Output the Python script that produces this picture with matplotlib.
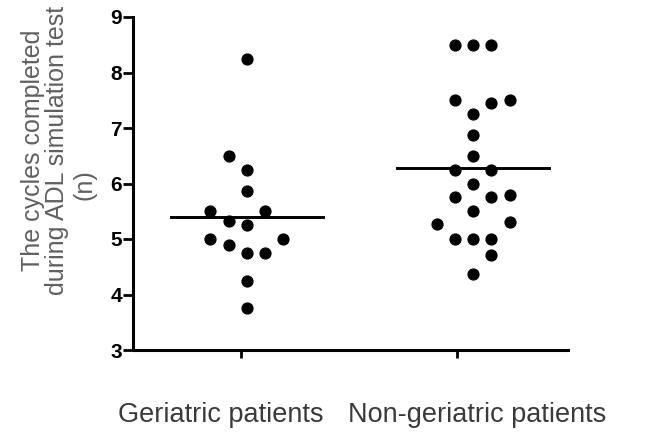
import numpy as np
import matplotlib.pyplot as plt

plt.rcParams['font.family'] = ['Liberation Sans', 'DejaVu Sans']

groups = ["Geriatric patients", "Non-geriatric patients"]

geriatric = [8.25, 6.5, 6.25, 5.86, 5.5, 5.5, 5.32, 5.25, 5.0, 5.0,
             4.89, 4.75, 4.75, 4.25, 3.75]
geriatric_slot = [0, -1, 0, 0, -2, 1, -1, 0, -2, 2, -1, 0, 1, 0, 0]

non_geriatric = [8.5, 8.5, 8.5, 7.5, 7.45, 7.5, 7.26, 6.87, 6.49, 6.24,
                 6.24, 6.0, 5.75, 5.75, 5.79, 5.5, 5.27, 5.31, 5.0, 5.0,
                 5.0, 4.72, 4.37]
non_geriatric_slot = [-1, 0, 1, -1, 1, 2, 0, 0, 0, -1, 1, 0, -1, 1, 2, 0,
                      -2, 2, -1, 0, 1, 1, 0]

fig = plt.figure(figsize=(6.47, 4.34), dpi=100)
ax = fig.add_axes([133 / 647, 1 - 350 / 434, 435 / 647, 333 / 434])

tick_pos = [1, 2]
centers = [1.028, 2.076]   # dots sit a little right of the ticks in the original
step = 0.0848
half = 0.352

for c, vals, slots in [(centers[0], geriatric, geriatric_slot),
                       (centers[1], non_geriatric, non_geriatric_slot)]:
    xs = c + np.array(slots) * step
    ax.plot(xs, vals, 'o', color='black', ms=7.8, mec='black')
    ax.plot([c - half, c + half], [np.mean(vals)] * 2, color='black', lw=2.1)

ax.set_xlim(0.501, 2.515)
ax.set_ylim(3, 9)
ax.set_yticks(range(3, 10))
for lab in ax.get_yticklabels():
    lab.set_fontweight('bold')
ax.tick_params(axis='y', length=7, width=2, labelsize=15, pad=1)
ax.set_xticks(tick_pos)
ax.set_xticklabels([])
ax.tick_params(axis='x', length=6, width=2)
for s in ['top', 'right']:
    ax.spines[s].set_visible(False)
for s in ['left', 'bottom']:
    ax.spines[s].set_linewidth(2.2)

label_x = [221 / 647, 477 / 647]
for lx, g in zip(label_x, groups):
    fig.text(lx, 1 - 415 / 434, g, ha='center', va='center', fontsize=19.5,
             color='#3a3a3a')

fig.text(45 / 647, 1 - 150 / 434,
         "The cycles completed\nduring ADL simulation test",
         rotation=90, ha='center', va='center', multialignment='center',
         fontsize=18, color='#606060', linespacing=1.05)
fig.text(85 / 647, 1 - 185 / 434, "(n)", rotation=90, ha='center',
         va='center', fontsize=18, color='#606060')

fig.savefig('out.png', dpi=100)
